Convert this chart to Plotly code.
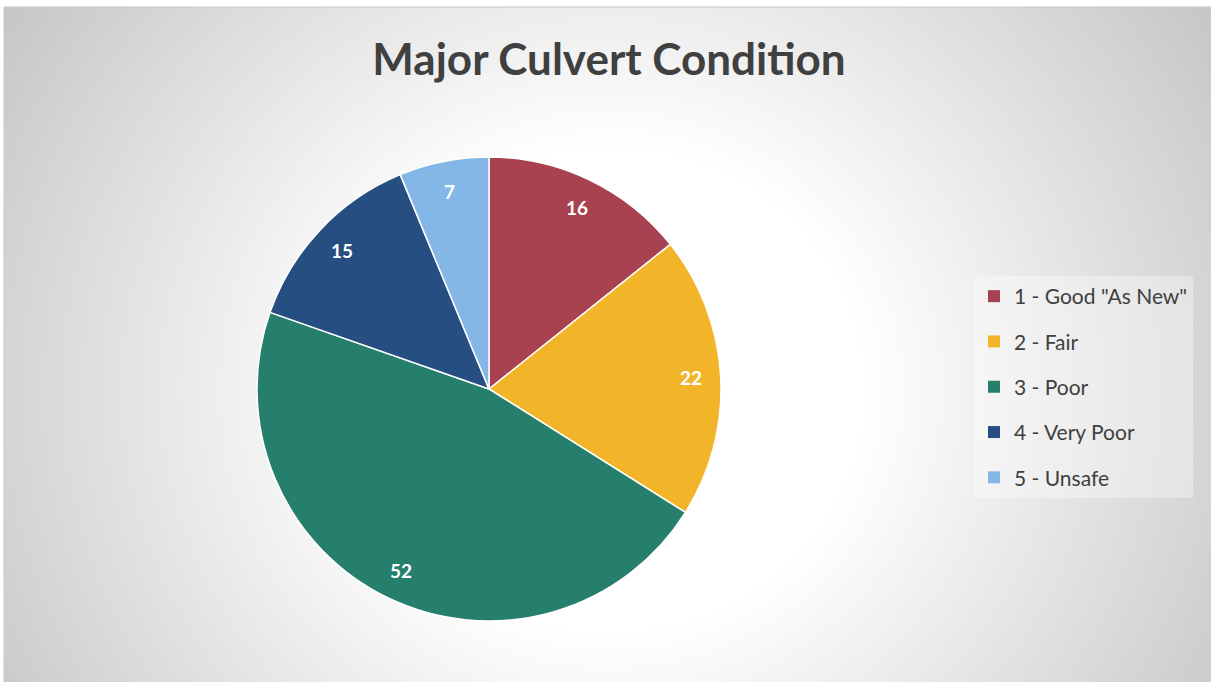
import base64
import math
import plotly.graph_objects as go

# Culvert condition ratings and counts
categories = ['1 - Good "As New"', '2 - Fair', '3 - Poor', '4 - Very Poor', '5 - Unsafe']
counts = [16, 22, 52, 15, 7]
slice_colors = ['#A84150', '#F2B529', '#267F6D', '#264E80', '#85B7E6']

W, H = 1211, 682
# chart area frame (px)
FX0, FY0 = 4, 7
# pie centre and radius (px)
CX, CY, R = 489, 389, 232
LABEL_FRAC = 0.87

dom_x = [(CX - R) / W, (CX + R) / W]
dom_y = [1 - (CY + R) / H, 1 - (CY - R) / H]

# radial grey-to-white backdrop as an inline SVG
fw, fh = W - FX0, H - FY0
svg = f'''<svg xmlns="http://www.w3.org/2000/svg" width="{fw}" height="{fh}" viewBox="0 0 {fw} {fh}">
<defs><radialGradient id="g" gradientUnits="userSpaceOnUse" cx="0" cy="0" r="1"
 gradientTransform="translate(606 383) scale(840 800)">
<stop offset="0" stop-color="#ffffff"/>
<stop offset="0.3" stop-color="#ffffff"/>
<stop offset="1" stop-color="#b8b8b8"/>
</radialGradient></defs>
<rect x="0" y="0" width="{fw}" height="{fh}" fill="url(#g)"/>
</svg>'''
bg_src = "data:image/svg+xml;base64," + base64.b64encode(svg.encode()).decode()

fig = go.Figure(go.Pie(
    labels=categories,
    values=counts,
    sort=False,
    direction="clockwise",
    rotation=0,
    marker=dict(colors=slice_colors, line=dict(color="white", width=1.5)),
    textinfo="none",
    hoverinfo="label+value",
    domain=dict(x=dom_x, y=dom_y),
    showlegend=False,
))

# legend entries: one square-marker entry per category, each in its own group
for name, col in zip(categories, slice_colors):
    fig.add_trace(go.Scatter(
        x=[None], y=[None], mode="markers", name=name, legendgroup=name,
        marker=dict(symbol="square", size=12, color=col, line=dict(width=0)),
        hoverinfo="skip",
    ))

# value labels placed near the outer edge of each slice
total = sum(counts)
cum = 0
for v in counts:
    theta = 2 * math.pi * (cum + v / 2) / total
    cum += v
    px = CX + LABEL_FRAC * R * math.sin(theta)
    py = CY - LABEL_FRAC * R * math.cos(theta)
    fig.add_annotation(
        x=px / W, y=1 - py / H, xref="paper", yref="paper",
        text=f"<b>{v}</b>", showarrow=False,
        font=dict(family="Lato", size=19, color="white"),
        xanchor="center", yanchor="middle",
    )

fig.add_layout_image(
    source=bg_src, xref="paper", yref="paper",
    x=FX0 / W, y=1 - FY0 / H, sizex=fw / W, sizey=fh / H,
    xanchor="left", yanchor="top", sizing="stretch", layer="below",
)
fig.add_shape(
    type="rect", xref="paper", yref="paper",
    x0=FX0 / W, x1=1.002, y0=-0.002, y1=1 - FY0 / H,
    line=dict(color="#c8c8c8", width=1), fillcolor="rgba(0,0,0,0)", layer="above",
)

fig.update_layout(
    width=W, height=H,
    margin=dict(l=0, r=0, t=0, b=0),
    paper_bgcolor="white",
    plot_bgcolor="rgba(0,0,0,0)",
    xaxis=dict(visible=False),
    yaxis=dict(visible=False),
    title=dict(
        text="Major Culvert Condition",
        x=609 / W, xanchor="center", xref="paper",
        y=1 - 60 / H, yanchor="middle", yref="paper",
        font=dict(family="Lato", size=44, color="#404040", weight="bold"),
    ),
    legend=dict(
        x=974 / W, y=1 - 276 / H, xanchor="left", yanchor="top",
        bgcolor="rgba(255,255,255,0.35)",
        font=dict(family="Lato", size=21, color="#404040"),
        borderwidth=0,
        tracegroupgap=15,
        traceorder="grouped",
    ),
    showlegend=True,
)

fig.write_html("out.html")
